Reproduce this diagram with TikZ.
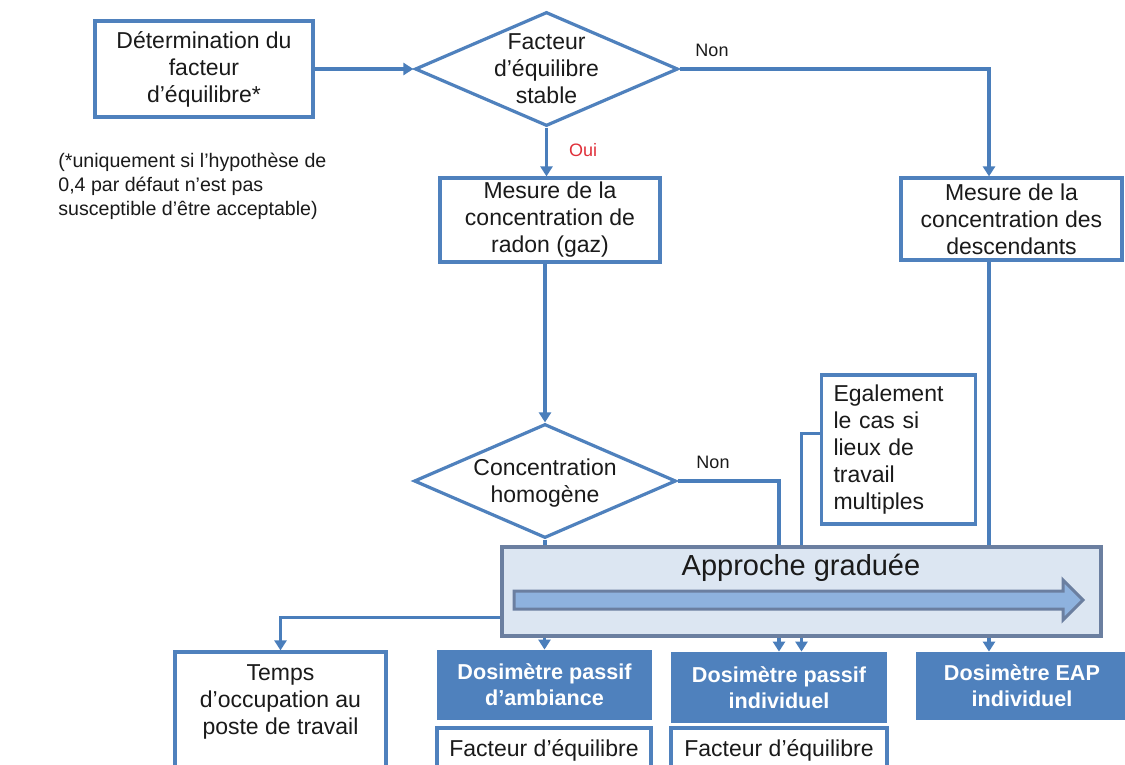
\documentclass[tikz,border=0pt]{standalone}
\usepackage{fontspec}
\setmainfont{Liberation Sans}
\usepackage{xcolor}
\usetikzlibrary{arrows.meta,positioning,shapes.geometric,calc}
\definecolor{flowblue}{HTML}{4F81BD}
\definecolor{linkblue}{HTML}{4A7EBB}
\definecolor{gradbg}{HTML}{DCE6F2}
\definecolor{gradedge}{HTML}{6B7FA0}
\definecolor{gradfill}{HTML}{8EB2DE}
\definecolor{ink}{HTML}{1A1A1A}
\definecolor{ouired}{HTML}{E0303A}
\newcommand{\boxfont}{\fontsize{11.5}{13.5}\selectfont}
\newcommand{\notefont}{\fontsize{9.8}{12}\selectfont}
\newcommand{\dosifont}{\fontsize{10.8}{13}\selectfont\bfseries}
\newcommand{\lblfont}{\fontsize{9}{11}\selectfont}
\tikzset{
  flowbox/.style={draw=flowblue,fill=white,line width=1.6pt,align=center,
                  inner sep=2pt,font=\boxfont,text=ink},
  decision/.style={diamond,draw=flowblue,fill=white,line width=1.6pt,
                   inner sep=0pt},
  boxtext/.style={align=center,inner sep=0pt,font=\boxfont,text=ink},
  dosibox/.style={fill=flowblue,draw=none,align=center,inner sep=2pt,
                  font=\dosifont,text=white},
  graded/.style={draw=gradedge,fill=gradbg,line width=2pt},
  gradarrow/.style={draw=gradedge,fill=gradfill,line width=1.5pt,
                    line join=miter},
  link/.style={draw=linkblue,line width=1.6pt},
  arr/.style={link,-{Triangle[length=5pt,width=6pt]}},
  lbl/.style={font=\lblfont,text=ink,inner sep=0pt}
}
\begin{document}
\begin{tikzpicture}[x=0.5pt,y=-0.5pt]
    \path[use as bounding box,fill=white] (0,0) rectangle (1125,765);
    % upper part
    \node[flowbox,minimum width=109pt,minimum height=48pt] (detfact) at (204,69)
      {Détermination du\\facteur\\d’équilibre*};
    \node[decision,minimum width=131.5pt,minimum height=57pt] (stable) at (546.5,69) {};
    \node[boxtext] (stabletxt) at (stable) {Facteur\\d’équilibre\\stable};
    \node[font=\notefont,text=ink,align=left,inner sep=0pt,anchor=west] (note) at (58,186)
      {(*uniquement si l’hypothèse de\\0,4 par défaut n’est pas\\susceptible d’être acceptable)};
    \node[flowbox,minimum width=110pt,minimum height=42pt] (radon) at (550,220)
      {Mesure de la\\concentration de\\radon (gaz)};
    \node[flowbox,minimum width=110.5pt,minimum height=41pt] (desc) at (1011.5,219)
      {Mesure de la\\concentration des\\descendants};
    \coordinate (rightlane) at ([xshift=-11.25pt]desc.south);

    % middle part
    \node[decision,minimum width=131pt,minimum height=57pt] (homog) at (545,481) {};
    \node[boxtext] (homogtxt) at (545,483) {Concentration\\homogène};
    \node[flowbox,align=left,text width=65pt,inner xsep=6pt,minimum height=74.5pt]
      (egal) at (898.5,449.5) {Egalement\\le cas si\\lieux de\\travail\\multiples};
    \node[graded,minimum width=299.5pt,minimum height=44.5pt] (approche) at (801.5,591.5) {};
    \node[font=\fontsize{14.5}{16}\selectfont,text=ink,inner sep=0pt] (approchetxt)
      at (801,568) {Approche graduée};
    \draw[gradarrow] (514,591) -- (1063,591) -- (1063,580) -- (1083,600)
      -- (1063,620) -- (1063,609) -- (514,609) -- cycle;

    % lower part
    \node[flowbox,minimum width=105.5pt,minimum height=74pt] (temps) at (280.5,726) {};
    \node[boxtext] (tempstxt) at (280.5,702) {Temps\\d’occupation au\\poste de travail};
    \node[dosibox,minimum width=107.5pt,minimum height=35pt] (ambiance) at (544.5,685)
      {Dosimètre passif\\d’ambiance};
    \node[flowbox,minimum width=107pt,minimum height=22pt] (ambfe) at (544,750)
      {Facteur d’équilibre};
    \node[dosibox,minimum width=108pt,minimum height=35.5pt] (indiv) at (779,687.5)
      {Dosimètre passif\\individuel};
    \node[flowbox,minimum width=108pt,minimum height=22pt] (indfe) at (779,750)
      {Facteur d’équilibre};
    \node[dosibox,minimum width=106pt,minimum height=34pt] (eap) at (1022,686)
      {Dosimètre EAP\\individuel};

    % connectors
    \draw[arr] (detfact.east) -- (stable.west);
    \draw[arr] (stable.east) -| (rightlane |- desc.north);
    \node[lbl] (non1) at (712,50) {Non};
    \draw[arr] (stable.south) -- (stable.south |- radon.north);
    \node[lbl,text=ouired] (oui) at (583,150) {Oui};
    \draw[arr] (radon.south -| homog.north) -- (homog.north);
    \draw[link] (rightlane) -- (rightlane |- approche.north);
    \draw[link] (homog.south) -- (homog.south |- approche.north);
    \draw[link] (homog.east) -| (indiv.north |- approche.north);
    \node[lbl] (non2) at (713,462) {Non};
    \draw[link] ([yshift=8pt]egal.west) -| (approche.north);
    \draw[arr] ([yshift=-13pt]approche.west) -| (temps.north);
    \draw[arr] (ambiance.north |- approche.south) -- (ambiance.north);
    \draw[arr] (indiv.north |- approche.south) -- (indiv.north);
    \draw[arr] (approche.south) -- (approche.south |- indiv.north);
    \draw[arr] (rightlane |- approche.south) -- (rightlane |- eap.north);
  \end{tikzpicture}
\end{document}
